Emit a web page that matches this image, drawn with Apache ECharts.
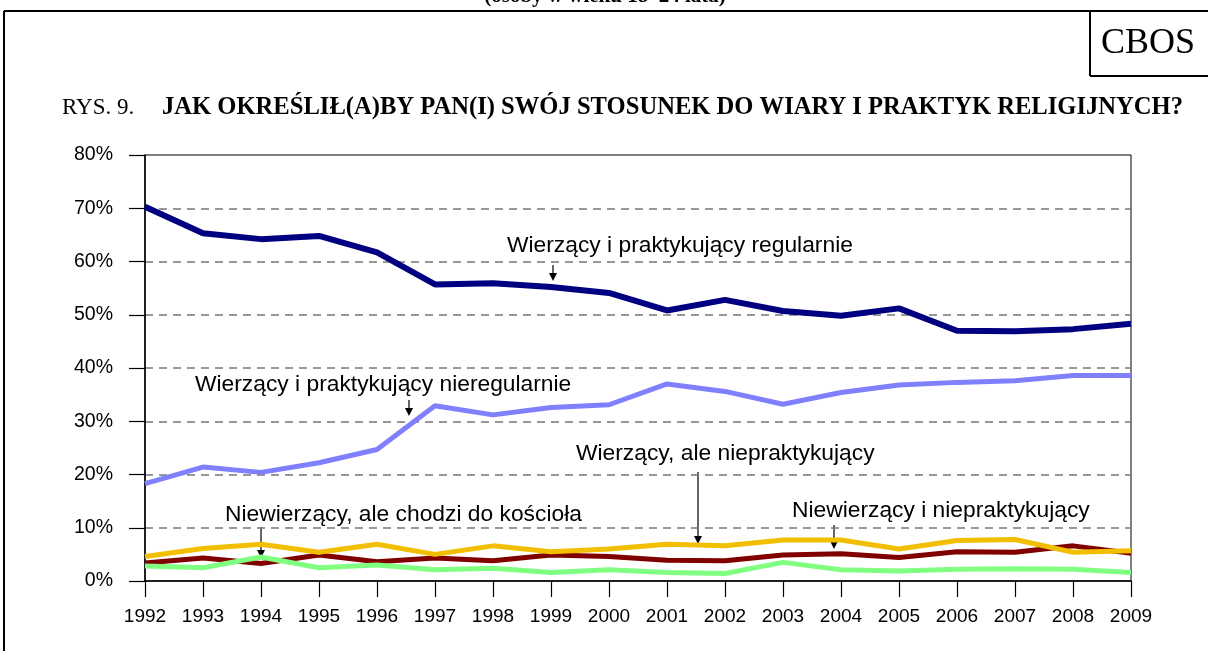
<!DOCTYPE html>
<html>
<head>
<meta charset="utf-8">
<script src="https://cdn.jsdelivr.net/npm/echarts@6/dist/echarts.min.js"></script>
<style>
  html, body { margin: 0; padding: 0; background: #fff; }
  #chart { width: 1208px; height: 651px; }
</style>
</head>
<body>
<div id="chart"></div>
<script>
// values (percent)
const years = ["1992", "1993", "1994", "1995", "1996", "1997", "1998", "1999", "2000",
  "2001", "2002", "2003", "2004", "2005", "2006", "2007", "2008", "2009"]
const regularnie = [70.3, 65.3, 64.2, 64.8, 61.7, 55.7, 55.9, 55.2, 54.1, 50.8, 52.8, 50.7, 49.8, 51.2, 47.0, 46.9, 47.3, 48.3]
const nieregularnie = [18.3, 21.4, 20.4, 22.2, 24.7, 32.9, 31.2, 32.6, 33.1, 37.0, 35.6, 33.2, 35.4, 36.8, 37.3, 37.6, 38.6, 38.6]
const niepraktykujacy = [4.6, 6.1, 6.9, 5.4, 6.9, 5.0, 6.6, 5.5, 6.0, 6.9, 6.6, 7.7, 7.7, 6.0, 7.6, 7.8, 5.4, 5.7]
const niewierzacy = [3.4, 4.3, 3.3, 4.9, 3.6, 4.3, 3.8, 4.9, 4.6, 3.9, 3.8, 4.9, 5.1, 4.4, 5.5, 5.4, 6.6, 5.2]
const chodzi = [2.8, 2.5, 4.5, 2.5, 3.0, 2.1, 2.4, 1.6, 2.1, 1.6, 1.4, 3.5, 2.1, 1.9, 2.2, 2.3, 2.2, 1.6]
const yTicks = [0, 10, 20, 30, 40, 50, 60, 70, 80]

const sans = "Liberation Sans, Arial, sans-serif"
const serif = "Liberation Serif, Times New Roman, serif"

function arrow(x, y1, y2) {
  return {
    type: "group",
    children: [
      { type: "line", shape: { x1: x, y1: y1, x2: x, y2: y2 - 6 }, style: { stroke: "#000", lineWidth: 1.2 } },
      { type: "polygon", shape: { points: [[x - 4, y2 - 8], [x + 4, y2 - 8], [x, y2]] }, style: { fill: "#000" } }
    ]
  }
}

function text(str, x, y, font, align) {
  return {
    type: "text", x: x, y: y,
    style: { text: str, font: font, fill: "#000", align: align || "left", verticalAlign: "middle" }
  }
}

const noteFont = "22.8px " + sans

const chart = echarts.init(document.getElementById("chart"))

chart.setOption({
  animation: false,
  backgroundColor: "#fff",
  grid: {
    left: 145, right: 77, top: 155, bottom: 70,
    show: true, borderColor: "#000", borderWidth: 1
  },
  xAxis: {
    type: "category",
    data: years,
    boundaryGap: false,
    axisLine: { lineStyle: { color: "#000", width: 1.5 } },
    axisTick: { show: true, length: 16, interval: 0, lineStyle: { color: "#000", width: 1.2 } },
    axisLabel: { margin: 26, fontSize: 19, fontFamily: sans, color: "#000", interval: 0 }
  },
  yAxis: {
    type: "value",
    min: 0, max: 80, interval: 10,
    axisLine: { show: true, lineStyle: { color: "#000", width: 1.5 } },
    axisTick: { show: true, length: 16, lineStyle: { color: "#000", width: 1.2 } },
    axisLabel: { margin: 32, fontSize: 19.5, fontFamily: sans, color: "#000", formatter: "{value}%" },
    splitLine: {
      show: true,
      lineStyle: {
        color: yTicks.map(v => (v === 0 || v === 80) ? "rgba(0,0,0,0)" : "#777"),
        type: [8, 6], width: 1.5
      }
    }
  },
  series: [
    { name: "Wierzący i praktykujący regularnie", type: "line", data: regularnie, symbol: "none",
      lineStyle: { color: "#000080", width: 6 } },
    { name: "Wierzący i praktykujący nieregularnie", type: "line", data: nieregularnie, symbol: "none",
      lineStyle: { color: "#8080FF", width: 5 } },
    { name: "Niewierzący i niepraktykujący", type: "line", data: niewierzacy, symbol: "none",
      lineStyle: { color: "#800000", width: 5 } },
    { name: "Wierzący, ale niepraktykujący", type: "line", data: niepraktykujacy, symbol: "none",
      lineStyle: { color: "#F2BF00", width: 5 } },
    { name: "Niewierzący, ale chodzi do kościoła", type: "line", data: chodzi, symbol: "none",
      lineStyle: { color: "#80FF80", width: 5 } }
  ],
  graphic: [
    // frame and CBOS box
    { type: "line", shape: { x1: 4, y1: 11, x2: 1208, y2: 11 }, style: { stroke: "#000", lineWidth: 2 } },
    { type: "line", shape: { x1: 4, y1: 11, x2: 4, y2: 651 }, style: { stroke: "#000", lineWidth: 2 } },
    { type: "line", shape: { x1: 1090, y1: 11, x2: 1090, y2: 76 }, style: { stroke: "#000", lineWidth: 2 } },
    { type: "line", shape: { x1: 1090, y1: 76, x2: 1208, y2: 76 }, style: { stroke: "#000", lineWidth: 2 } },
    text("CBOS", 1148, 44, "36px " + serif, "center"),
    text("(osoby w wieku 18–24 lata)", 605, -3, "bold 21px " + serif, "center"),
    // title
    text("RYS. 9.", 62, 108, "23px " + serif),
    text("JAK OKREŚLIŁ(A)BY PAN(I) SWÓJ STOSUNEK DO WIARY I PRAKTYK RELIGIJNYCH?", 162, 108, "bold 24.6px " + serif),
    // series annotations
    text("Wierzący i praktykujący regularnie", 507, 246, noteFont),
    arrow(553, 265, 281),
    text("Wierzący i praktykujący nieregularnie", 195, 385, noteFont),
    arrow(409, 400, 416),
    text("Wierzący, ale niepraktykujący", 576, 454, noteFont),
    arrow(698, 472, 544),
    text("Niewierzący, ale chodzi do kościoła", 225, 515, noteFont),
    arrow(261, 527, 558),
    text("Niewierzący i niepraktykujący", 792, 511, noteFont),
    arrow(834, 525, 549)
  ]
})
</script>
</body>
</html>
